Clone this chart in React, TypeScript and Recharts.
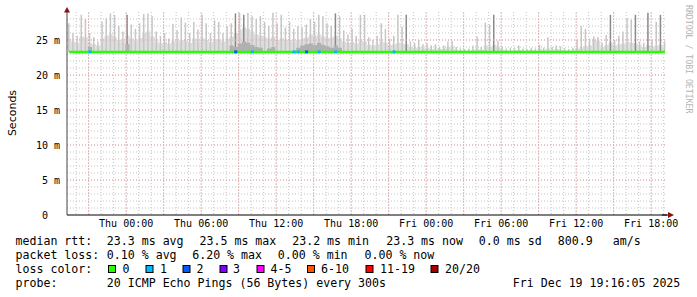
import React from 'react';
import { ComposedChart, Area, Bar, Line, XAxis, YAxis, CartesianGrid, ReferenceDot, ReferenceLine, Cell } from 'recharts';

// time in hours relative to Thu 00:00, one bucket = 20 minutes
const START = -(4 + 44 / 60); // Wed 19:16
const END = START + 48;
const STEP = 1 / 3;

const tickHours = [0, 6, 12, 18, 24, 30, 36, 42];
const tickLabels = ['Thu 00:00', 'Thu 06:00', 'Thu 12:00', 'Thu 18:00', 'Fri 00:00', 'Fri 06:00', 'Fri 12:00', 'Fri 18:00'];
const yTicks = [0, 5, 10, 15, 20, 25];

// median rtt in ms per bucket
const median = [
  23.3, 23.3, 23.3, 23.3, 23.3, 23.3, 23.3, 23.3, 23.3, 23.3, 23.3, 23.3,
  23.3, 23.3, 23.3, 23.3, 23.3, 23.3, 23.3, 23.3, 23.3, 23.3, 23.3, 23.3,
  23.3, 23.3, 23.3, 23.3, 23.3, 23.3, 23.3, 23.3, 23.3, 23.3, 23.3, 23.3,
  23.3, 23.3, 23.3, 23.3, 23.3, 23.3, 23.3, 23.3, 23.3, 23.3, 23.3, 23.3,
  23.3, 23.3, 23.3, 23.3, 23.3, 23.3, 23.3, 23.3, 23.3, 23.3, 23.3, 23.3,
  23.3, 23.3, 23.3, 23.3, 23.3, 23.3, 23.3, 23.3, 23.3, 23.3, 23.3, 23.3,
  23.3, 23.3, 23.3, 23.3, 23.3, 23.3, 23.3, 23.3, 23.3, 23.3, 23.3, 23.3,
  23.3, 23.3, 23.3, 23.3, 23.3, 23.3, 23.3, 23.3, 23.3, 23.3, 23.3, 23.3,
  23.3, 23.3, 23.3, 23.3, 23.3, 23.3, 23.3, 23.3, 23.3, 23.3, 23.3, 23.3,
  23.3, 23.3, 23.3, 23.3, 23.3, 23.3, 23.3, 23.3, 23.3, 23.3, 23.3, 23.3,
  23.3, 23.3, 23.3, 23.3, 23.3, 23.3, 23.3, 23.3, 23.3, 23.3, 23.3, 23.3,
  23.3, 23.3, 23.3, 23.3, 23.3, 23.3, 23.3, 23.3, 23.3, 23.3, 23.3, 23.3,
];

// upper edge of the light smoke
const smoke = [
  25.2, 24.8, 24.6, 25.5, 25.4, 24.6, 24.4, 24.2, 25.2, 25.6, 25.8, 25.4,
  25.0, 24.8, 25.6, 25.2, 24.9, 25.3, 26.0, 26.2, 25.5, 24.8, 24.5, 24.7,
  24.5, 24.9, 24.8, 25.0, 24.9, 24.6, 25.2, 24.8, 25.3, 25.0, 24.7, 25.1,
  25.0, 24.8, 25.2, 25.5, 26.0, 26.5, 26.8, 26.6, 26.2, 25.8, 25.6, 25.4,
  25.2, 25.5, 25.0, 25.3, 25.0, 25.0, 24.8, 25.0, 25.2, 25.4, 25.8, 25.6,
  25.8, 25.5, 25.3, 25.4, 25.6, 25.2, 24.8, 24.6, 24.7, 24.5, 24.9, 24.8,
  24.3, 24.2, 24.4, 24.8, 24.6, 24.3, 24.4, 24.6, 24.5, 24.4, 24.0, 23.9,
  24.0, 23.8, 23.9, 23.7, 23.8, 23.7, 23.8, 24.0, 24.1, 23.6, 23.5, 23.5,
  23.5, 23.6, 23.7, 23.6, 24.2, 24.0, 24.3, 23.9, 23.6, 23.5, 23.5, 23.5,
  23.6, 23.5, 23.5, 23.6, 23.5, 23.7, 23.6, 23.8, 23.6, 23.7, 23.6, 23.5,
  23.5, 23.6, 23.8, 24.0, 24.1, 24.2, 25.0, 24.9, 24.0, 24.3, 24.6, 24.2,
  24.4, 24.5, 24.7, 24.6, 24.5, 24.2, 24.0, 24.3, 24.1, 24.2, 24.3, 24.0,
];

// highest ping of each bucket (thin spikes)
const peak = [
  27.4, 26.0, 25.6, 28.6, 28.0, 26.0, 25.4, 24.8, 27.6, 28.1, 28.8, 28.6,
  27.0, 26.2, 28.6, 27.2, 26.6, 27.4, 28.7, 28.8, 28.4, 26.2, 25.6, 26.0,
  25.2, 27.3, 26.4, 28.2, 27.5, 26.0, 27.6, 26.5, 28.6, 27.4, 26.0, 27.8,
  27.6, 26.0, 27.0, 27.4, 28.8, 28.9, 28.6, 28.9, 28.4, 28.0, 28.4, 27.6,
  27.0, 28.9, 27.4, 28.6, 26.8, 27.6, 26.6, 27.0, 26.8, 27.2, 28.0, 27.6,
  28.6, 28.4, 27.4, 27.0, 28.8, 28.4, 26.4, 25.8, 26.6, 25.6, 28.6, 28.6,
  25.4, 25.0, 25.6, 27.4, 26.6, 25.2, 25.6, 28.6, 26.9, 28.6, 24.8, 24.6,
  25.0, 24.4, 24.5, 24.2, 24.4, 24.0, 24.2, 24.8, 24.9, 24.0, 23.8, 23.7,
  23.8, 24.2, 25.5, 24.0, 27.5, 27.2, 28.6, 24.9, 24.0, 23.8, 23.9, 23.8,
  24.2, 23.8, 23.7, 23.9, 23.8, 24.3, 23.9, 25.4, 24.0, 24.2, 24.1, 23.8,
  23.7, 23.9, 25.0, 27.0, 26.6, 25.2, 25.5, 25.4, 24.6, 25.7, 28.6, 25.0,
  25.6, 26.2, 28.1, 27.9, 28.6, 24.8, 24.6, 28.9, 25.0, 27.6, 28.6, 24.8,
];

// [bucket, ms] darker smoke near the median
const darkCore = [
  [5, 24.0], [14, 24.4], [39, 24.2], [40, 24.0], [41, 24.5], [42, 24.8], [43, 24.6],
  [44, 24.3], [45, 24.0], [46, 23.9], [48, 23.8], [49, 24.0], [55, 23.9],
  [56, 24.2], [57, 24.4], [58, 24.5], [59, 24.3], [60, 24.6], [61, 24.3], [62, 24.1], [63, 23.9],
  [64, 24.2], [65, 23.9],
];

// buckets whose spike is drawn dark
const darkSpikes = [14, 40, 42, 64, 81, 102, 130, 136, 139, 142];

// [bucket, lost pings]
const lossEvents = [[5, 1], [40, 2], [44, 1], [54, 1], [55, 1], [57, 2], [60, 1], [64, 1], [78, 1]];

const lossLabels = ['0', '1', '2', '3', '4-5', '6-10', '11-19', '20/20'];
const lossColors = ['#26ff00', '#00b8ff', '#0059ff', '#7e00ff', '#ff00ff', '#ff5500', '#ff0000', '#a10000'];
const lossBoxX = [108.5, 146, 183, 220, 257, 307.5, 366, 431];
const lossLabelX = [122.5, 160, 196.5, 233, 270.5, 321, 380, 445];

const minorX: number[] = [];
for (let h = -4; h <= 43; h++) minorX.push(h);
const majorX = minorX.filter((h) => h % 3 === 0);
const minorY: number[] = [];
for (let v = 1; v <= 28; v++) minorY.push(v);
const majorY = [5, 10, 15, 20, 25];

const data = peak.map((p, i) => {
  const m = median[i];
  const dc = darkCore.find((d) => d[0] === i);
  return {
    t: START + (i + 0.5) * STEP,
    median: m,
    smoke: [m, smoke[i]],
    peak: [m, p],
    dark: [m, dc ? dc[1] : m],
  };
});

const mono = 'DejaVu Sans Mono';
const majorColor = '#f0a4a4';

function RightArrow(props: any) {
  const { cx, cy } = props;
  return (
    <g>
      <line x1={cx - 5} y1={cy} x2={cx + 1} y2={cy} stroke="#000" strokeWidth={1} />
      <path d={`M${cx + 1},${cy - 3} L${cx + 7},${cy} L${cx + 1},${cy + 3} Z`} fill="#8b1010" />
    </g>
  );
}

function UpArrow(props: any) {
  const { cx, cy } = props;
  return <path d={`M${cx - 3},${cy + 0.5} L${cx},${cy - 5} L${cx + 3},${cy + 0.5} Z`} fill="#8b1010" />;
}

function LossMark(color: string) {
  return (props: any) => <rect x={props.cx - 1.5} y={props.cy - 1.5} width={3} height={3} fill={color} />;
}

export default function App() {
  return (
    <div style={{ position: 'absolute', left: 0, top: 0, width: 697, height: 297, background: '#fff' }}>
      <ComposedChart width={697} height={297} data={data} margin={{ top: 12, right: 30, bottom: 62, left: 7 }}>
        <CartesianGrid horizontalValues={minorY} verticalValues={minorX} stroke="#c4c4c4" strokeDasharray="1 2" />
        <XAxis
          type="number"
          dataKey="t"
          domain={[START, END]}
          allowDataOverflow
          ticks={tickHours}
          interval={0}
          tickFormatter={(v: number) => tickLabels[tickHours.indexOf(v)]}
          tick={{ fontSize: 10, fill: '#000', fontFamily: mono }}
          tickLine={false}
          tickSize={0}
          tickMargin={5}
          height={20}
          axisLine={{ stroke: '#000' }}
        />
        <YAxis
          type="number"
          domain={[0, 29]}
          allowDataOverflow
          ticks={yTicks}
          interval={0}
          tickFormatter={(v: number) => (v === 0 ? '0\u00a0\u00a0' : `${v} m`)}
          tick={{ fontSize: 10, fill: '#000', fontFamily: mono }}
          tickLine={false}
          tickSize={0}
          tickMargin={7}
          width={60}
          axisLine={{ stroke: '#444' }}
        />
        {majorX.map((h) => (
          <ReferenceLine key={'mx' + h} x={h} stroke={majorColor} strokeDasharray="1 2" ifOverflow="discard" />
        ))}
        {majorY.map((v) => (
          <ReferenceLine key={'my' + v} y={v} stroke={majorColor} strokeDasharray="1 2" />
        ))}
        <Area dataKey="smoke" type="step" fill="#dedede" fillOpacity={1} stroke="none" isAnimationActive={false} />
        <Bar dataKey="peak" barSize={1.5} fill="#c6c6c6" isAnimationActive={false}>
          {data.map((_, i) => (
            <Cell key={i} fill={darkSpikes.includes(i) ? '#8a8a8a' : '#c6c6c6'} />
          ))}
        </Bar>
        <Area dataKey="dark" type="step" fill="#b0b0b0" fillOpacity={1} stroke="none" isAnimationActive={false} zIndex={350} />
        <Line dataKey="median" stroke="#26ff00" strokeWidth={2.5} dot={false} type="linear" isAnimationActive={false} />
        {lossEvents.map(([i, n]) => (
          <ReferenceDot key={i} x={data[i].t} y={median[i]} r={2} shape={LossMark(lossColors[n])} ifOverflow="visible" />
        ))}
        <ReferenceDot x={END} y={0} r={3} shape={RightArrow} ifOverflow="visible" />
        <ReferenceDot x={START} y={29} r={3} shape={UpArrow} ifOverflow="visible" />
      </ComposedChart>
      <svg width={697} height={297} style={{ position: 'absolute', left: 0, top: 0, pointerEvents: 'none' }}>
        <text transform="translate(15.5,113) rotate(-90)" textAnchor="middle" fontFamily="DejaVu Sans" fontSize={11} fill="#000">
          Seconds
        </text>
        <text transform="translate(686,5) rotate(90)" fontFamily={mono} fontSize={8.2} fill="#b4b4b4">
          RRDTOOL / TOBI OETIKER
        </text>
        <g fontFamily={mono} fontSize={11.6} fill="#000">
          <text x={15.5} y={245}>median rtt:</text>
          <text x={106.8} y={245}>23.3 ms avg</text>
          <text x={199.5} y={245}>23.5 ms max</text>
          <text x={292.2} y={245}>23.2 ms min</text>
          <text x={386.2} y={245}>23.3 ms now</text>
          <text x={478.8} y={245}>0.0 ms sd</text>
          <text x={557.8} y={245}>800.9</text>
          <text x={612.8} y={245}>am/s</text>

          <text x={15.5} y={259}>packet loss:</text>
          <text x={106.8} y={259}>0.10 % avg</text>
          <text x={192.2} y={259}>6.20 % max</text>
          <text x={277.8} y={259}>0.00 % min</text>
          <text x={364.5} y={259}>0.00 % now</text>

          <text x={15.5} y={273}>loss color:</text>
          {lossLabels.map((l, k) => (
            <g key={l}>
              <rect x={lossBoxX[k]} y={265.5} width={7} height={7} fill={lossColors[k]} stroke="#000" strokeWidth={1} />
              <text x={lossLabelX[k]} y={273}>{l}</text>
            </g>
          ))}

          <text x={15.5} y={287}>probe:</text>
          <text x={106.8} y={287}>20 ICMP Echo Pings (56 Bytes) every 300s</text>
          <text x={512.8} y={287}>Fri Dec 19 19:16:05 2025</text>
        </g>
      </svg>
    </div>
  );
}
